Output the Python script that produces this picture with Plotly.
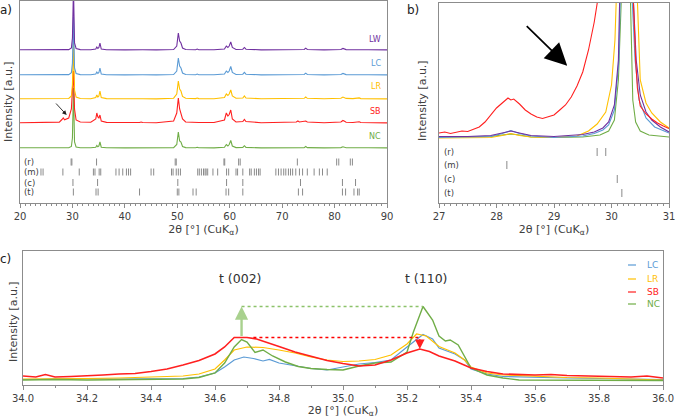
import plotly.graph_objects as go

W, H = 676, 419
FONT = "DejaVu Sans"
TXT = "#404040"
AXC = "#8c8c8c"
COL = {"LW": "#7030A0", "LC": "#5B9BD5", "LR": "#FFC000", "SB": "#FF2020", "NC": "#70AD47"}

# ---------------- panel a: full patterns (2theta, intensity a.u.) ----------------
TTH_A = [20.0, 24.0, 27.5, 28.0, 28.25, 28.5, 29.3, 29.8, 30.0, 30.2, 30.4, 30.7, 31.5, 33.5,
         34.45, 34.65, 34.85, 35.05, 35.25, 35.5, 36.5, 40.0, 42.8, 43.1, 43.4, 46.0, 49.3, 49.9,
         50.2, 50.45, 50.7, 51.0, 51.6, 53.5, 53.8, 54.1, 57.0, 59.0, 59.35, 59.65, 59.9, 60.2,
         60.5, 61.2, 62.5, 62.8, 63.1, 66.0, 72.7, 73.0, 73.3, 74.2, 74.5, 74.8, 78.0, 81.2,
         81.6, 81.9, 82.2, 83.5, 84.4, 84.7, 85.0, 86.5, 90.0]
LW_A = [0.3, 0.2, 0.2, 0.4, 0.7, 0.4, 0.4, 2.0, 12, 62, 7, 1.5, 0.4, 0.3,
        1.0, 3.0, 1.5, 2.5, 7.0, 1.0, 0.3, 0.1, 0.2, 0.8, 0.2, 0.1, 0.5, 4.0,
        17, 9, 7, 2.0, 0.5, 0.3, 0.9, 0.3, 0.2, 1.0, 4.0, 2.5, 4.0, 8.0,
        2.5, 0.5, 0.8, 2.5, 0.8, 0.1, 0.3, 1.0, 0.4, 0.5, 1.8, 0.5, 0.1, 0.5,
        1.6, 1.2, 0.4, 0.3, 0.6, 0.9, 0.3, 0.3, 0.1]
LC_A = [0.3, 0.2, 0.2, 0.4, 0.8, 0.4, 0.4, 2.2, 12, 58, 7, 1.5, 0.4, 0.3,
        1.0, 3.0, 1.5, 2.5, 7.0, 1.0, 0.3, 0.1, 0.2, 0.8, 0.2, 0.1, 0.5, 4.0,
        17, 9, 7, 2.0, 0.5, 0.3, 0.9, 0.3, 0.2, 1.0, 4.0, 2.5, 4.0, 8.5,
        2.5, 0.5, 0.8, 2.6, 0.8, 0.1, 0.3, 1.0, 0.4, 0.5, 1.8, 0.5, 0.1, 0.5,
        1.6, 1.2, 0.4, 0.3, 0.6, 0.9, 0.3, 0.3, 0.1]
LR_A = [0.3, 0.2, 0.2, 0.4, 0.6, 0.4, 0.5, 3.0, 14, 58, 9, 2.0, 0.5, 0.3,
        1.5, 4.0, 2.0, 3.0, 8.0, 1.5, 0.4, 0.2, 0.3, 0.9, 0.3, 0.1, 0.8, 5.0,
        18, 10, 8, 2.5, 0.7, 0.4, 1.0, 0.4, 0.3, 1.5, 5.0, 3.5, 5.0, 9.0,
        3.0, 0.8, 1.0, 3.0, 1.0, 0.2, 0.5, 1.2, 0.6, 0.7, 2.0, 0.7, 0.2, 0.7,
        2.0, 1.5, 0.6, 0.4, 0.8, 1.1, 0.4, 0.3, 0.1]
SB_A = [0.2, 0.4, 0.9, 3.5, 5.0, 3.2, 5.0, 14, 30, 52, 14, 3.0, 1.0, 0.8,
        4.0, 10, 6.0, 5.0, 8.0, 2.0, 0.6, 0.3, 0.5, 1.0, 0.5, 0.3, 2.0, 10,
        25, 14, 10, 4.0, 1.0, 0.5, 1.0, 0.5, 0.5, 3.0, 10, 7.0, 8.5, 13,
        4.0, 1.0, 1.5, 3.5, 1.5, 0.3, 1.0, 2.0, 1.0, 1.2, 2.0, 1.0, 0.3, 1.0,
        2.5, 1.8, 0.8, 0.5, 0.8, 1.2, 0.5, 0.3, 0.1]
NC_A = [0.2, 0.1, 0.1, 0.2, 0.4, 0.2, 0.2, 1.5, 10, 60, 6, 1.0, 0.3, 0.2,
        0.8, 2.5, 1.2, 2.0, 6.0, 0.8, 0.2, 0.1, 0.1, 0.6, 0.1, 0.1, 0.4, 3.5,
        16, 7, 6, 1.5, 0.4, 0.2, 0.7, 0.2, 0.1, 0.8, 3.5, 2.0, 3.5, 7.5,
        2.0, 0.4, 0.6, 2.3, 0.6, 0.1, 0.2, 0.8, 0.3, 0.4, 1.5, 0.4, 0.1, 0.4,
        1.2, 1.0, 0.3, 0.2, 0.5, 0.8, 0.2, 0.2, 0.1]
OFFSET_A = {"NC": 54.5, "SB": 79.5, "LR": 103.5, "LC": 127.5, "LW": 152.5}

# ---------------- reference reflections (2theta) ----------------
REF_R = [29.75, 29.9, 34.6, 49.6, 49.8, 58.9, 59.05, 61.7, 62.0, 72.9, 80.4, 80.8, 83.0, 83.4]
REF_M = [24.0, 24.4, 28.18, 31.3, 34.0, 34.3, 35.1, 35.4, 38.3, 38.9, 39.6, 40.3, 40.7, 41.1,
         45.0, 45.5, 48.9, 49.2, 49.8, 50.2, 50.6, 53.9, 54.2, 54.6, 55.0, 55.3, 55.5, 55.8,
         56.8, 57.7, 59.4, 59.8, 61.2, 61.5, 62.5, 63.8, 64.1, 64.7, 65.1, 65.5, 65.8, 68.8,
         69.3, 69.8, 70.3, 70.7, 71.2, 71.6, 72.0, 72.6, 73.3, 73.9, 74.8, 76.1, 77.1, 77.7, 78.6]
REF_C = [30.1, 34.8, 50.1, 59.4, 62.5, 73.5, 81.5, 84.0]
REF_T = [30.18, 34.5, 34.9, 42.8, 50.0, 50.3, 53.0, 53.6, 59.3, 59.8, 62.5, 73.1, 73.9, 81.5,
         82.1, 83.7, 84.4, 84.7]
PHASES = ["(r)", "(m)", "(c)", "(t)"]

# ---------------- panel b: zoom 27-31 ----------------
TTH_B_LW = [27.0, 27.5, 27.9, 28.1, 28.25, 28.4, 28.6, 29.0, 29.3, 29.5, 29.7, 29.85, 29.95, 30.05,
            30.12, 30.16, 30.25, 30.38, 30.43, 30.5, 30.6, 30.7, 30.85, 31.0]
INT_B_LW = [66, 66, 67, 69.5, 71.5, 69.5, 67, 66, 67.5, 68, 70.5, 74.5, 80.5, 97.5,
            142.5, 202.5, 500, 202.5, 142.5, 107.5, 90.5, 82.5, 75.5, 70.5]
TTH_B_LC = [27.0, 27.5, 27.9, 28.1, 28.25, 28.4, 28.6, 29.0, 29.5, 29.7, 29.85, 29.95, 30.05,
            30.13, 30.17, 30.25, 30.36, 30.41, 30.48, 30.6, 30.75, 31.0]
INT_B_LC = [65, 65.5, 66, 69, 72, 69, 66.5, 65, 66.5, 69, 72.5, 77.5, 92.5,
            142.5, 202.5, 500, 202.5, 142.5, 102.5, 84.5, 75.5, 69.5]
TTH_B_LR = [27.0, 27.5, 27.9, 28.1, 28.25, 28.4, 28.6, 29.0, 29.4, 29.6, 29.75, 29.9, 30.0,
            30.06, 30.09, 30.25, 30.45, 30.5, 30.6, 30.7, 30.85, 31.0]
INT_B_LR = [64.5, 64.5, 65, 67, 69, 67, 65.5, 65, 66.5, 71.5, 78.5, 90.5, 117.5,
            162.5, 202.5, 500, 202.5, 122.5, 99.5, 89.5, 80.5, 74.5]
TTH_B_NC = [27.0, 27.5, 27.9, 28.1, 28.25, 28.4, 28.6, 29.0, 29.5, 29.8, 29.95, 30.05, 30.12,
            30.17, 30.25, 30.33, 30.37, 30.42, 30.5, 30.65, 31.0]
INT_B_NC = [65.5, 65.5, 66, 67.5, 68.5, 67.5, 65.5, 65, 65.5, 67.5, 71.5, 82.5, 122.5,
            202.5, 500, 202.5, 102.5, 80.5, 71.5, 67.5, 65.5]
TTH_B_SB = [27.0, 27.1, 27.2, 27.3, 27.4, 27.5, 27.6, 27.7, 27.8, 27.9, 28.0, 28.1, 28.2, 28.25,
            28.3, 28.4, 28.5, 28.6, 28.7, 28.8, 28.9, 29.0, 29.1, 29.2, 29.3, 29.4, 29.5, 29.6,
            29.7, 29.76, 30.25, 30.38, 30.42, 30.45, 30.5, 30.6, 30.7, 30.8, 30.9, 31.0]
INT_B_SB = [69.5, 70.5, 69, 70.5, 71.5, 71, 73.5, 75.5, 80.5, 87.5, 94.5, 99.5, 104.5, 102.5,
            103.5, 98.5, 92.5, 88.5, 85.5, 84, 85.5, 87.5, 92.5, 97.5, 105.5, 116.5, 130.5, 152.5,
            180.5, 202.5, 1000, 202.5, 142.5, 114.5, 96.5, 88.5, 83.5, 79.5, 76.5, 74]

# ---------------- panel c: zoom 34-36 ----------------
TTH_C_SB = [34.00, 34.04, 34.07, 34.10, 34.15, 34.20, 34.25, 34.30, 34.35, 34.40, 34.45, 34.50,
            34.55, 34.60, 34.63, 34.66, 34.70, 34.73, 34.76, 34.80, 34.85, 34.90, 34.95, 35.00,
            35.05, 35.10, 35.15, 35.20, 35.24, 35.27, 35.30, 35.35, 35.40, 35.45, 35.50, 35.60,
            35.65, 35.70, 35.80, 35.90, 35.95, 36.00]
INT_C_SB = [9, 8, 10.5, 8, 8.5, 9, 10, 11, 11.5, 13.5, 16, 20,
            24.5, 31, 38, 47.5, 47.5, 46, 43, 38.5, 33, 28.5, 24.5, 21.5,
            19, 20, 25, 32, 36, 33.5, 29, 24, 17, 13.5, 11, 10,
            10.5, 9.5, 8.5, 8, 9, 7]
TTH_C_NC = [34.00, 34.10, 34.20, 34.30, 34.40, 34.50, 34.55, 34.60, 34.63, 34.66, 34.683, 34.70,
            34.725, 34.75, 34.78, 34.82, 34.86, 34.90, 34.95, 35.00, 35.05, 35.10, 35.15, 35.20,
            35.22, 35.25, 35.28, 35.30, 35.32, 35.335, 35.36, 35.38, 35.40, 35.45, 35.50, 35.55,
            35.70, 35.80, 36.00]
INT_C_NC = [5, 5.5, 5, 5.5, 5.5, 6, 7.5, 12, 22, 38, 45.5, 43,
            32.5, 35, 29, 23, 18.5, 16.5, 15.5, 15, 19, 22, 23, 33,
            53, 78.5, 65, 49, 44, 45, 40, 29, 17, 10, 7, 5,
            5, 4.5, 4.5]
TTH_C_LR = [34.00, 34.10, 34.20, 34.30, 34.40, 34.50, 34.55, 34.60, 34.63, 34.66, 34.70, 34.75,
            34.80, 34.85, 34.90, 34.95, 35.00, 35.05, 35.10, 35.15, 35.20, 35.23, 35.26, 35.30,
            35.35, 35.38, 35.40, 35.45, 35.50, 35.60, 35.70, 35.80, 35.90, 36.00]
INT_C_LR = [6, 6, 6.5, 7, 8, 9, 11, 16, 25, 35, 38, 37.5,
            35, 32, 28, 25, 23.5, 24, 25.5, 30, 41, 51, 49, 38.5,
            32, 25, 18, 12, 10, 8.5, 7.5, 7, 6, 5]
TTH_C_LC = [34.00, 34.10, 34.20, 34.30, 34.40, 34.50, 34.55, 34.60, 34.63, 34.66, 34.69, 34.72,
            34.75, 34.77, 34.80, 34.85, 34.90, 34.95, 35.00, 35.05, 35.10, 35.15, 35.20, 35.25,
            35.28, 35.30, 35.35, 35.38, 35.40, 35.45, 35.50, 35.60, 35.70, 35.80, 35.90, 36.00]
INT_C_LC = [5.5, 6, 6.5, 6, 6, 6.5, 8, 12, 18, 25, 28, 26.5,
            24, 25.5, 22, 19, 16.5, 15, 18, 21, 22.5, 25, 38, 50.5,
            46, 37, 31, 25, 16, 11, 8.5, 7.5, 7, 6.5, 6, 5.5]


def px_x(p):
    return p / W


def px_y(p):
    return 1 - p / H


fig = go.Figure()

# panel a traces (bottom to top)
data_a = {"LW": LW_A, "LC": LC_A, "LR": LR_A, "SB": SB_A, "NC": NC_A}
for name in ["NC", "SB", "LR", "LC", "LW"]:
    fig.add_trace(go.Scatter(x=TTH_A, y=[v + OFFSET_A[name] for v in data_a[name]],
                             mode="lines", line=dict(color=COL[name], width=1.1),
                             xaxis="x", yaxis="y", showlegend=False, hoverinfo="skip"))


def sticks(pos, yc, h):
    xs, ys = [], []
    for p in pos:
        xs += [p, p, None]
        ys += [yc - h, yc + h, None]
    return xs, ys


ROW_A = [40.5, 30.5, 20.0, 10.5]
ROW_B = [50.5, 37.5, 23.5, 9.5]
for refs, ya, yb in zip([REF_R, REF_M, REF_C, REF_T], ROW_A, ROW_B):
    xs, ys = sticks(refs, ya, 3.5)
    fig.add_trace(go.Scatter(x=xs, y=ys, mode="lines", line=dict(color="#8a8a8a", width=1),
                             xaxis="x", yaxis="y", showlegend=False, hoverinfo="skip"))
    xs, ys = sticks(refs, yb, 4)
    fig.add_trace(go.Scatter(x=xs, y=ys, mode="lines", line=dict(color="#8a8a8a", width=1),
                             xaxis="x2", yaxis="y2", showlegend=False, hoverinfo="skip"))

# panel b traces
for name, xs, ys in [("NC", TTH_B_NC, INT_B_NC), ("LR", TTH_B_LR, INT_B_LR),
                     ("LC", TTH_B_LC, INT_B_LC), ("LW", TTH_B_LW, INT_B_LW),
                     ("SB", TTH_B_SB, INT_B_SB)]:
    fig.add_trace(go.Scatter(x=xs, y=ys, mode="lines", line=dict(color=COL[name], width=1.1),
                             xaxis="x2", yaxis="y2", showlegend=False, hoverinfo="skip"))

# panel c traces
for name, xs, ys, w in [("LC", TTH_C_LC, INT_C_LC, 1.2), ("LR", TTH_C_LR, INT_C_LR, 1.2),
                        ("NC", TTH_C_NC, INT_C_NC, 1.4), ("SB", TTH_C_SB, INT_C_SB, 1.6)]:
    fig.add_trace(go.Scatter(x=xs, y=ys, mode="lines", line=dict(color=COL[name], width=w),
                             xaxis="x3", yaxis="y3", showlegend=False, hoverinfo="skip"))


# peak comparison guides in panel c
def peak(xs, ys, lo, hi):
    best = max((y, x) for x, y in zip(xs, ys) if lo <= x <= hi)
    return best[1], best[0]


nc002_x, nc002_y = peak(TTH_C_NC, INT_C_NC, 34.5, 34.9)
nc110_x, nc110_y = peak(TTH_C_NC, INT_C_NC, 35.1, 35.4)
sb002_x, sb002_y = peak(TTH_C_SB, INT_C_SB, 34.5, 34.9)
sb110_x, sb110_y = peak(TTH_C_SB, INT_C_SB, 35.1, 35.4)

fig.add_trace(go.Scatter(x=[nc002_x, nc110_x], y=[nc110_y, nc110_y], mode="lines",
                         line=dict(color="#8dc26a", width=1.3, dash="dot"),
                         xaxis="x3", yaxis="y3", showlegend=False, hoverinfo="skip"))
fig.add_trace(go.Scatter(x=[sb002_x + 0.02, sb110_x], y=[sb002_y, sb002_y], mode="lines",
                         line=dict(color="#ff0000", width=1.3, dash="dot"),
                         xaxis="x3", yaxis="y3", showlegend=False, hoverinfo="skip"))

ann = []
ann.append(dict(x=nc002_x, y=nc110_y, ax=nc002_x, ay=sb002_y, xref="x3", yref="y3",
                axref="x3", ayref="y3", showarrow=True, arrowhead=2, arrowsize=1.1,
                arrowwidth=2.4, arrowcolor="#a9d18e", text=""))
ann.append(dict(x=sb110_x, y=sb110_y, ax=sb110_x, ay=sb002_y, xref="x3", yref="y3",
                axref="x3", ayref="y3", showarrow=True, arrowhead=2, arrowsize=1.6,
                arrowwidth=1.2, arrowcolor="#ff2020", text=""))
ann.append(dict(x=34.68, y=107, xref="x3", yref="y3", text="t (002)", showarrow=False,
                xanchor="center", yanchor="middle", font=dict(size=12.5, color="#303030")))
ann.append(dict(x=35.26, y=107, xref="x3", yref="y3", text="t (110)", showarrow=False,
                xanchor="center", yanchor="middle", font=dict(size=12.5, color="#303030")))

# arrows in a and b
ann.append(dict(x=28.9, y=87.5, xref="x", yref="y", ax=-12, ay=-13, showarrow=True,
                arrowhead=2, arrowsize=1, arrowwidth=0.9, arrowcolor="#202020", text=""))
ann.append(dict(x=29.23, y=136.8, xref="x2", yref="y2", ax=-42, ay=-41, showarrow=True,
                arrowhead=2, arrowsize=2.6, arrowwidth=1.7, arrowcolor="#000000", text=""))


def label(text, xp, yp, size, color, xanchor="center", angle=0):
    return dict(x=px_x(xp), y=px_y(yp), xref="paper", yref="paper", text=text,
                showarrow=False, xanchor=xanchor, yanchor="middle", textangle=angle,
                font=dict(size=size, color=color))


# sample labels in panel a
for name, yp in [("LW", 39), ("LC", 63), ("LR", 87), ("SB", 111), ("NC", 136)]:
    ann.append(label(name, 383, yp, 8, COL[name], xanchor="right"))

# phase labels
for lab, ya, yb in zip(PHASES, [162, 172, 182.5, 192.5], [152, 165, 179, 193]):
    ann.append(label(lab, 22, ya, 8.5, TXT, xanchor="left"))
    ann.append(label(lab, 442, yb, 8.5, TXT, xanchor="left"))

# y titles
for xp, yp in [(9, 102), (422, 101), (13, 322)]:
    ann.append(label("Intensity [a.u.]", xp, yp, 11, TXT, angle=-90))

# panel letters
for lab, xp, yp in [("a)", 6, 10), ("b)", 413, 10), ("c)", 5, 259)]:
    ann.append(label(lab, xp, yp, 12, "#202020"))

# legend of panel c
shapes = []
for name, yp in [("LC", 265), ("LR", 279), ("SB", 292), ("NC", 304)]:
    shapes.append(dict(type="line", xref="paper", yref="paper", x0=px_x(628), x1=px_x(636),
                       y0=px_y(yp), y1=px_y(yp), line=dict(color=COL[name], width=1.2)))
    ann.append(label(name, 645, yp, 9, COL[name], xanchor="left"))

XT = "2θ [°] (CuK<sub>α</sub>)"
common_x = dict(showline=True, mirror=True, linecolor=AXC, linewidth=1, ticks="outside",
                tickcolor=AXC, ticklen=4, showgrid=False, zeroline=False, automargin=False,
                tickfont=dict(size=10, color=TXT))
common_y = dict(showline=True, mirror=True, linecolor=AXC, linewidth=1, showticklabels=False,
                ticks="", showgrid=False, zeroline=False, automargin=False)

fig.update_layout(
    template="none",
    width=W, height=H, margin=dict(l=0, r=0, t=0, b=0, autoexpand=False),
    paper_bgcolor="white", plot_bgcolor="white",
    font=dict(family=FONT, color=TXT),
    xaxis=dict(common_x, domain=[px_x(20), px_x(387)], range=[20, 90], dtick=10,
               minor=dict(dtick=1, ticklen=2, ticks="outside", tickcolor=AXC),
               title=dict(text=XT, font=dict(size=11, color=TXT), standoff=4), anchor="y"),
    yaxis=dict(common_y, domain=[px_y(202.5), px_y(1)], range=[0, 201.5], anchor="x"),
    xaxis2=dict(common_x, domain=[px_x(439), px_x(669)], range=[27, 31], dtick=1,
                minor=dict(dtick=0.1, ticklen=2, ticks="outside", tickcolor=AXC),
                title=dict(text=XT, font=dict(size=11, color=TXT), standoff=4), anchor="y2"),
    yaxis2=dict(common_y, domain=[px_y(202.5), px_y(3)], range=[0, 199.5], anchor="x2"),
    xaxis3=dict(common_x, domain=[px_x(23), px_x(663)], range=[34, 36], dtick=0.2,
                tickformat=".1f",
                minor=dict(dtick=0.1, ticklen=2, ticks="outside", tickcolor=AXC),
                title=dict(text=XT, font=dict(size=11, color=TXT), standoff=2), anchor="y3"),
    yaxis3=dict(common_y, domain=[px_y(385), px_y(251)], range=[0, 134], anchor="x3"),
    annotations=ann, shapes=shapes, showlegend=False,
)

fig.write_html("out.html", config={"displayModeBar": False},
               post_script="document.body.style.margin='0';"
                           "document.body.style.overflow='hidden';")
